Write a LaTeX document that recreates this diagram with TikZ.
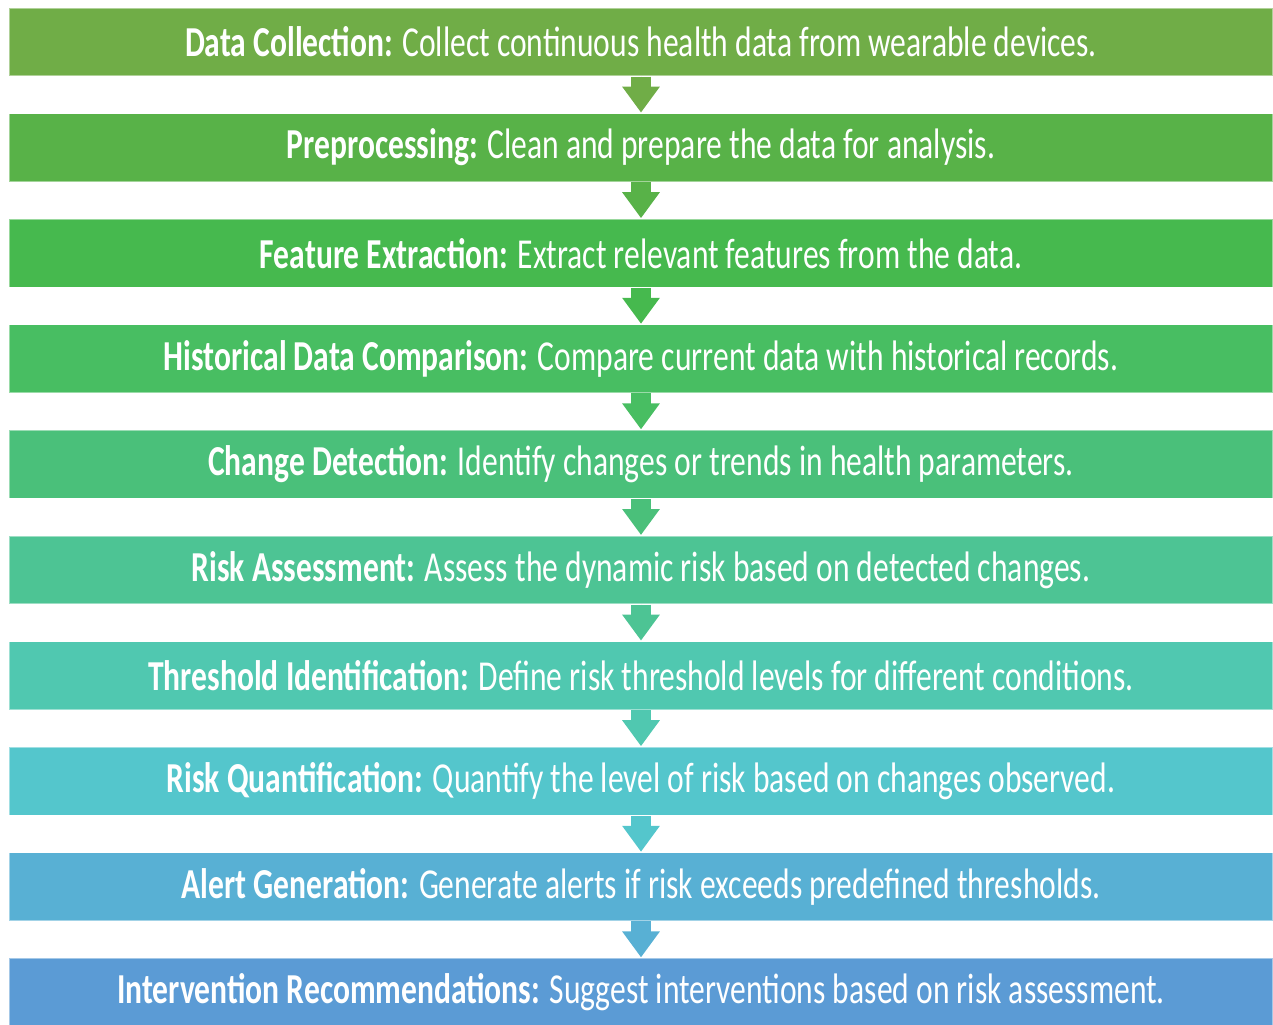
\documentclass[tikz,border=0pt]{standalone}
\usepackage{fontspec}
\setmainfont{Carlito}
\usepackage{graphicx}
\usetikzlibrary{arrows.meta}
\definecolor{c1}{HTML}{70AD47}
\definecolor{c2}{HTML}{58B248}
\definecolor{c3}{HTML}{46B94E}
\definecolor{c4}{HTML}{48BE62}
\definecolor{c5}{HTML}{4AC07A}
\definecolor{c6}{HTML}{4DC494}
\definecolor{c7}{HTML}{50C8B0}
\definecolor{c8}{HTML}{54C6CC}
\definecolor{c9}{HTML}{58B0D4}
\definecolor{c10}{HTML}{5B9BD5}
\newsavebox\measbox
\newcommand\stepfont{\fontsize{32}{36}\selectfont}
\newcommand\steptext[2]{\scalebox{\txs}[1]{\stepfont\textbf{#1} #2}}
\begin{document}
\sbox\measbox{\stepfont\textbf{Data Collection:} Collect continuous health data from wearable devices.}%
\pgfmathsetmacro\txs{684/\the\wd\measbox}%
\begin{tikzpicture}[x=0.75pt,y=-0.75pt,
  stepbox/.style={minimum width=1264*0.75pt, minimum height=68*0.75pt, inner sep=0pt,
    draw=white, draw opacity=0.45, line width=0.9pt, text=white, anchor=center},
  flowarrow/.style={line width=15pt, -{Triangle[width=27pt,length=19.5pt]}, shorten >=0.3pt}]
\useasboundingbox (0,0) rectangle (1273,1024);
\node[stepbox, fill=c1] (b1) at (641,42) {\steptext{Data Collection:}{Collect continuous health data from wearable devices.}};
\node[stepbox, fill=c2] (b2) at (641,147.6) {\steptext{Preprocessing:}{Clean and prepare the data for analysis.}};
\node[stepbox, fill=c3] (b3) at (641,253.2) {\steptext{Feature Extraction:}{Extract relevant features from the data.}};
\node[stepbox, fill=c4] (b4) at (641,358.8) {\steptext{Historical Data Comparison:}{Compare current data with historical records.}};
\node[stepbox, fill=c5] (b5) at (641,464.4) {\steptext{Change Detection:}{Identify changes or trends in health parameters.}};
\node[stepbox, fill=c6] (b6) at (641,570) {\steptext{Risk Assessment:}{Assess the dynamic risk based on detected changes.}};
\node[stepbox, fill=c7] (b7) at (641,675.6) {\steptext{Threshold Identification:}{Define risk threshold levels for different conditions.}};
\node[stepbox, fill=c8] (b8) at (641,781.2) {\steptext{Risk Quantification:}{Quantify the level of risk based on changes observed.}};
\node[stepbox, fill=c9] (b9) at (641,886.8) {\steptext{Alert Generation:}{Generate alerts if risk exceeds predefined thresholds.}};
\node[stepbox, fill=c10] (b10) at (641,992.4) {\steptext{Intervention Recommendations:}{Suggest interventions based on risk assessment.}};
\foreach \i/\j in {1/2,2/3,3/4,4/5,5/6,6/7,7/8,8/9,9/10}{
  \draw[flowarrow, draw=c\i, fill=c\i] (b\i.south) -- (b\j.north);
}
\end{tikzpicture}
\end{document}
